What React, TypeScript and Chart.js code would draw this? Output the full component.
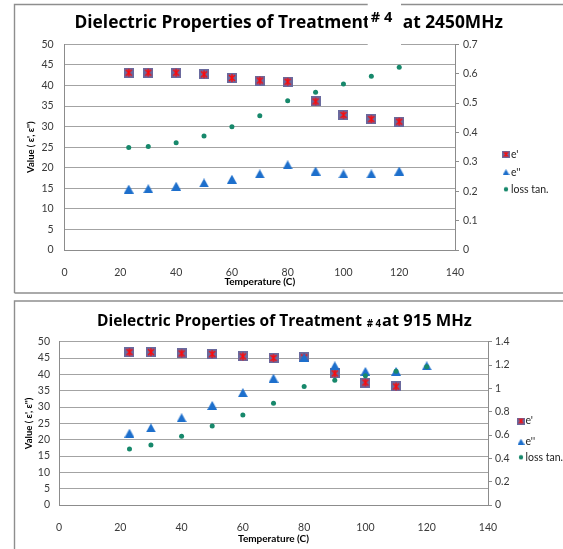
import React, { useEffect, useRef } from 'react';
import { Chart, registerables } from 'chart.js';

Chart.register(...registerables);

// ---------- data ----------
const temps = [23, 30, 40, 50, 60, 70, 80, 90, 100, 110, 120];
const xTickStep = 20;
const xMax = 140;

const ePrime2450 = [43.1, 43.1, 43.1, 42.7, 41.8, 41.2, 40.9, 36.1, 32.8, 31.8, 31.2];
const eDouble2450 = [14.8, 14.9, 15.5, 16.3, 17.2, 18.5, 20.7, 19.2, 18.5, 18.5, 19.2];
const lossTan2450 = [0.349, 0.352, 0.365, 0.388, 0.419, 0.457, 0.508, 0.537, 0.565, 0.591, 0.622];

const ePrimeTemps915 = [23, 30, 40, 50, 60, 70, 80, 90, 100, 110];
const ePrime915 = [46.8, 46.8, 46.4, 46.2, 45.5, 45.0, 45.2, 40.3, 37.5, 36.3];
const eDouble915 = [22.0, 23.6, 26.7, 30.5, 34.4, 38.8, 45.2, 42.6, 40.9, 40.9, 42.6];
const lossTan915 = [0.48, 0.515, 0.589, 0.678, 0.772, 0.872, 1.015, 1.069, 1.109, 1.147, 1.186];

const seriesLabels = ["e'", "e''", 'loss tan.'];
const titleMain = 'Dielectric Properties of Treatment';
const titleTag = '# 4';
const titleTail2450 = 'at 2450MHz';
const titleTail915 = 'at 915 MHz';
const xTitle = 'Temperature (C)';
const yTitle = "Value ( ε', ε'')";
const leftMax = 50;
const leftStep = 5;
const rightMax2450 = 0.7;
const rightStep2450 = 0.1;
const rightMax915 = 1.4;
const rightStep915 = 0.2;

const FONT = "Lato, 'Open Sans', sans-serif";
const TITLE_FONT = "'Open Sans', Lato, sans-serif";
Chart.defaults.font.family = FONT;

const zip = (xs: number[], ys: number[]) => ys.map((y, i) => ({ x: xs[i], y }));
const fmtTick = (v: any) => String(Math.round(Number(v) * 1000) / 1000);

// ---------- markers ----------
function makeStarBox(w: number, h: number) {
  const c = document.createElement('canvas');
  c.width = w; c.height = h;
  const g = c.getContext('2d')!;
  g.fillStyle = '#6A6A9E';
  g.fillRect(0, 0, w, h);
  g.strokeStyle = '#FF0A0A';
  g.lineWidth = w >= 10 ? 1.4 : 1.1;
  const mx = w * 0.2, my = h * 0.2;
  g.beginPath();
  g.moveTo(mx, my); g.lineTo(w - mx, h - my);
  g.moveTo(w - mx, my); g.lineTo(mx, h - my);
  g.moveTo(w / 2, h * 0.1); g.lineTo(w / 2, h * 0.9);
  g.stroke();
  return c;
}
function makeTriangle(w: number, h: number) {
  const c = document.createElement('canvas');
  c.width = w; c.height = h;
  const g = c.getContext('2d')!;
  g.fillStyle = '#1D6FCC';
  g.beginPath();
  g.moveTo(w / 2, 0); g.lineTo(w, h); g.lineTo(0, h); g.closePath();
  g.fill();
  return c;
}
function makeDot(r: number) {
  const s = Math.ceil(r * 2) + 1;
  const c = document.createElement('canvas');
  c.width = s; c.height = s;
  const g = c.getContext('2d')!;
  g.fillStyle = '#17886B';
  g.beginPath(); g.arc(s / 2, s / 2, r, 0, Math.PI * 2); g.fill();
  return c;
}

function fitFont(ctx: CanvasRenderingContext2D, text: string, width: number) {
  ctx.font = `bold 20px ${TITLE_FONT}`;
  return (20 * width) / ctx.measureText(text).width;
}

// ---------- decoration plugin (frame, title, legend) ----------
const decor = {
  id: 'decor',
  beforeDraw(chart: any, _a: any, o: any) {
    const { ctx, width, height } = chart;
    ctx.save();
    ctx.fillStyle = '#ffffff';
    ctx.fillRect(0, 0, width, height);
    ctx.strokeStyle = '#8e8e8e';
    ctx.lineWidth = 1.4;
    const f = o.frame;
    ctx.beginPath();
    ctx.moveTo(f.left, f.bottom);
    ctx.lineTo(f.left, f.top);
    ctx.lineTo(width + 2, f.top);
    if (f.bottom < height) {
      ctx.moveTo(f.left, f.bottom);
      ctx.lineTo(width + 2, f.bottom);
    }
    ctx.stroke();
    ctx.restore();
  },
  afterDraw(chart: any, _a: any, o: any) {
    const { ctx } = chart;
    const t = o.title;
    ctx.save();
    ctx.textAlign = 'left';
    ctx.textBaseline = 'alphabetic';
    ctx.fillStyle = '#000';
    const size = fitFont(ctx, titleMain, t.mainWidth);
    ctx.font = `bold ${size}px ${TITLE_FONT}`;
    ctx.fillText(titleMain, t.mainLeft, t.baseline);
    const tailSize = t.tailWidth ? fitFont(ctx, t.tail, t.tailWidth) : size;
    ctx.font = `bold ${tailSize}px ${TITLE_FONT}`;
    ctx.fillText(t.tail, t.tailLeft, t.baseline);
    if (t.box) {
      ctx.fillStyle = '#ffffff';
      ctx.fillRect(t.box.x, t.box.y, t.box.w, t.box.h);
      ctx.fillStyle = '#000';
    }
    const ts = fitFont(ctx, titleTag, t.tagWidth);
    ctx.font = `bold ${ts}px ${TITLE_FONT}`;
    ctx.fillText(titleTag, t.tagLeft, t.tagBaseline);

    const lg = o.legend;
    ctx.font = `${lg.fontSize}px ${FONT}`;
    ctx.textBaseline = 'middle';
    ctx.fillStyle = '#222';
    chart.data.datasets.forEach((ds: any, i: number) => {
      const y = lg.ys[i];
      const m = lg.markers[i];
      ctx.drawImage(m, lg.markerX - m.width / 2, y - m.height / 2);
      ctx.fillText(ds.label, lg.textX, y);
    });
    ctx.restore();
  },
};

function buildChart(canvas: HTMLCanvasElement, L: any) {
  const star = makeStarBox(10, 10);
  const tri = makeTriangle(10, 9);
  const legendMarkers = [makeStarBox(8, 7), makeTriangle(7, 6), makeDot(2.2)];
  const tickFont = { size: 10.5 };
  const tickColor = '#3a3a3a';
  const axisColor = '#8c8c8c';
  return new Chart(canvas, {
    type: 'scatter',
    data: {
      datasets: [
        { label: seriesLabels[0], data: zip(L.ePrimeX, L.ePrime), pointStyle: star as any, pointRadius: 5, order: 3, yAxisID: 'y' },
        { label: seriesLabels[1], data: zip(temps, L.eDouble), pointStyle: tri as any, pointRadius: 5, order: 2, yAxisID: 'y' },
        { label: seriesLabels[2], data: zip(temps, L.lossTan), pointStyle: 'circle', pointRadius: 2.5, backgroundColor: '#17886B', borderWidth: 0, order: 1, yAxisID: 'y1' },
      ],
    },
    options: {
      responsive: false,
      animation: false,
      devicePixelRatio: 1,
      events: [],
      layout: { padding: { top: L.plotTop, left: 0, right: 0, bottom: L.padBottom } },
      plugins: {
        legend: { display: false },
        title: { display: false },
        tooltip: { enabled: false },
        decor: { frame: L.frame, title: L.title, legend: { ...L.legend, markers: legendMarkers } },
      } as any,
      scales: {
        x: {
          type: 'linear', min: 0, max: xMax,
          ticks: { stepSize: xTickStep, padding: L.xTickPad, color: tickColor, font: tickFont, callback: fmtTick },
          grid: { display: false },
          border: { display: true, color: axisColor, width: 1 },
          title: { display: true, text: xTitle, color: '#000', font: { size: 10, weight: 'bold' }, padding: { top: 0, bottom: L.xTitlePad } },
          afterFit: (s: any) => { s.height = L.xAxisH; },
        },
        y: {
          position: 'left', min: 0, max: leftMax,
          ticks: { stepSize: leftStep, padding: L.yTickPad, color: tickColor, font: tickFont, callback: fmtTick },
          grid: { color: '#a3a3a3', lineWidth: 1, drawTicks: false },
          border: { display: true, color: axisColor, width: 1 },
          title: { display: true, text: yTitle, color: '#000', font: { size: 9.5, weight: 'bold' }, padding: { top: L.yTitlePad, bottom: 0 } },
          afterFit: (s: any) => { s.width = L.plotLeft; },
        },
        y1: {
          position: 'right', min: 0, max: L.rMax,
          ticks: { stepSize: L.rStep, padding: L.rTickPad, color: tickColor, font: tickFont, callback: fmtTick },
          grid: { drawOnChartArea: false, drawTicks: true, tickLength: 4, color: axisColor },
          border: { display: true, color: axisColor, width: 1 },
          afterFit: (s: any) => { s.width = L.rightW; },
        },
      } as any,
    },
    plugins: [decor as any],
  });
}

// ---------- layout ----------
const TOP = {
  ePrimeX: temps, ePrime: ePrime2450, eDouble: eDouble2450, lossTan: lossTan2450,
  rMax: rightMax2450, rStep: rightStep2450,
  plotTop: 44.3, padBottom: 7, xAxisH: 40, xTickPad: 8.2, xTitlePad: 2,
  plotLeft: 64.6, yTickPad: 11, yTitlePad: 24.8, rightW: 108, rTickPad: 4,
  frame: { left: 14.5, top: 4.5, bottom: 293 },
  title: {
    mainLeft: 74.5, mainWidth: 296, baseline: 28.3, tail: titleTail2450, tailLeft: 402.7, tailWidth: 0,
    box: { x: 367.7, y: 0, w: 33.3, h: 46 }, tagLeft: 370.7, tagWidth: 21.5, tagBaseline: 21.7,
  },
  legend: { markerX: 506, textX: 511, ys: [154.3, 172.2, 189.3], fontSize: 10.5 },
};

const BOTTOM = {
  ePrimeX: ePrimeTemps915, ePrime: ePrime915, eDouble: eDouble915, lossTan: lossTan915,
  rMax: rightMax915, rStep: rightStep915,
  plotTop: 44.7, padBottom: 0, xAxisH: 44, xTickPad: 8.7, xTitlePad: 4,
  plotLeft: 59, yTickPad: 9, yTitlePad: 23, rightW: 75, rTickPad: 3,
  frame: { left: 14.5, top: 4, bottom: 400 },
  title: {
    mainLeft: 97, mainWidth: 265, baseline: 28.7, tail: titleTail915, tailLeft: 382, tailWidth: 90,
    box: null, tagLeft: 366.7, tagWidth: 14.5, tagBaseline: 30,
  },
  legend: { markerX: 521, textX: 525.5, ys: [124, 144.7, 160.3], fontSize: 10.5 },
};

export default function App() {
  const topRef = useRef<HTMLCanvasElement>(null);
  const botRef = useRef<HTMLCanvasElement>(null);
  useEffect(() => {
    const c1 = buildChart(topRef.current!, TOP);
    const c2 = buildChart(botRef.current!, BOTTOM);
    return () => { c1.destroy(); c2.destroy(); };
  }, []);
  return (
    <div style={{ position: 'absolute', left: 0, top: 0, width: 563, height: 549, background: '#fff', overflow: 'hidden' }}>
      <canvas ref={topRef} width={563} height={297} style={{ position: 'absolute', left: 0, top: 0, display: 'block' }} />
      <canvas ref={botRef} width={563} height={252} style={{ position: 'absolute', left: 0, top: 297, display: 'block' }} />
    </div>
  );
}
